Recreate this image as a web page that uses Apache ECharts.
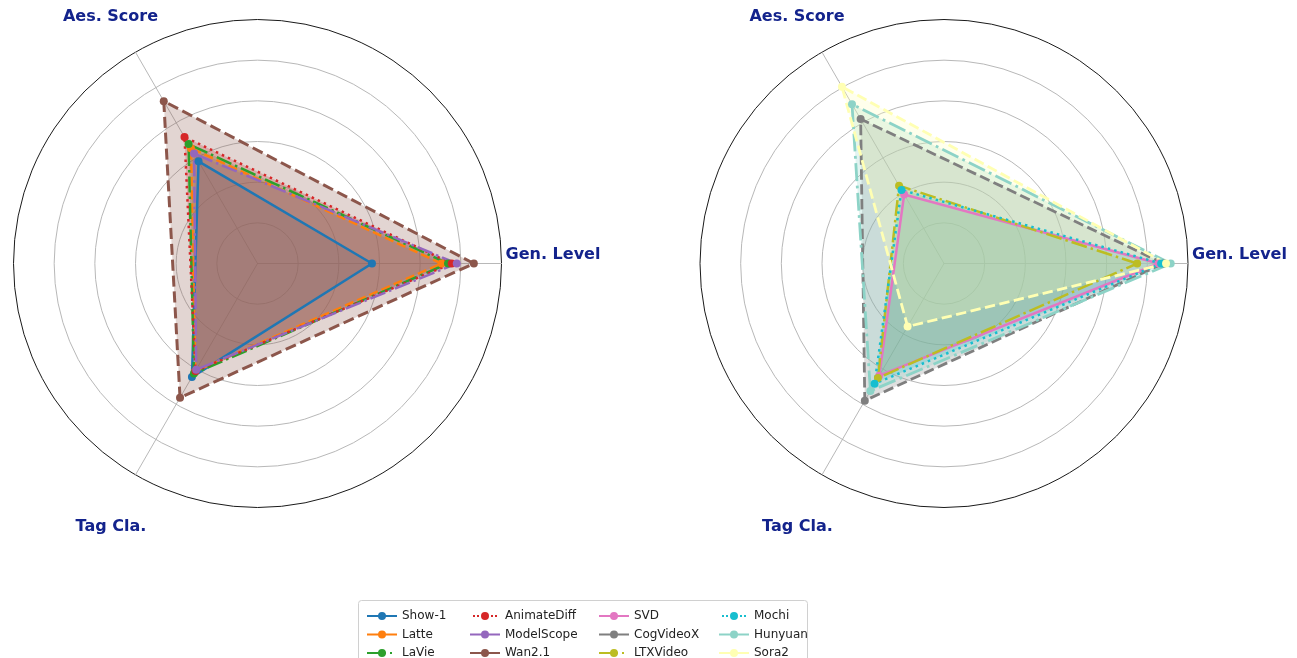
<!DOCTYPE html>
<html>
<head>
<meta charset="utf-8">
<script src="https://cdn.jsdelivr.net/npm/echarts@6/dist/echarts.min.js"></script>
<style>html,body{margin:0;padding:0;background:#fff;}#c{width:1297px;height:658px;}</style>
</head>
<body>
<div id="c"></div>
<script>
// ---- data ----
const categories = ['Gen. Level', 'Aes. Score', 'Tag Cla.'];
const axisMax = 1.2;

const leftModels = ['Show-1', 'Latte', 'LaVie', 'AnimateDiff', 'ModelScope', 'Wan2.1'];
const leftGen = [0.563, 0.905, 0.937, 0.955, 0.980, 1.064];
const leftAes = [0.580, 0.655, 0.678, 0.718, 0.624, 0.922];
const leftTag = [0.645, 0.612, 0.625, 0.610, 0.603, 0.762];

const rightModels = ['SVD', 'CogVideoX', 'LTXVideo', 'Mochi', 'Hunyuan', 'Sora2'];
const rightGen = [1.056, 1.080, 0.950, 1.068, 1.115, 1.092];
const rightAes = [0.392, 0.820, 0.442, 0.418, 0.905, 1.004];
const rightTag = [0.637, 0.779, 0.650, 0.683, 0.724, 0.358];

const leftColors = ['#1f77b4', '#ff7f0e', '#2ca02c', '#d62728', '#9467bd', '#8c564b'];
const rightColors = ['#e377c2', '#7f7f7f', '#bcbd22', '#17becf', '#8dd3c7', '#ffffb3'];
const lineKinds = ['solid', 'dashed', 'dashdot', 'dotted', 'dashdot', 'dashed'];
const leftWidths = [2.5, 2.5, 2.5, 2.5, 2.5, 3];
const rightWidths = [2.5, 2.8, 2.5, 2.5, 2.8, 2.8];

const legendColumns = [
  ['Show-1', 'Latte', 'LaVie'],
  ['AnimateDiff', 'ModelScope', 'Wan2.1'],
  ['SVD', 'CogVideoX', 'LTXVideo'],
  ['Mochi', 'Hunyuan', 'Sora2']
];

// ---- layout / style ----
const R = 244;
const centers = [[257.5, 263.5], [944, 263.5]];
const FONT = '"DejaVu Sans", sans-serif';
const labelColor = '#13238c';

function dashFor(kind, w) {
  if (kind === 'dashed') return [3.7 * w, 1.6 * w];
  if (kind === 'dashdot') return [6.4 * w, 1.6 * w, 1 * w, 1.6 * w];
  if (kind === 'dotted') return [1 * w, 1.65 * w];
  return 'solid';
}

const iconSolid = 'path://M0,3H30V5H0Z M19,4A4,4 0 1,1 11,4A4,4 0 1,1 19,4Z';
const iconDashDot = 'path://M0,3H19V5H0Z M23,3H25V5H23Z M30,3.99H30.01V4.01H30Z M19,4A4,4 0 1,1 11,4A4,4 0 1,1 19,4Z';
const iconDotted = 'path://M0.01,3.99H0.02V4.01H0.01Z M3,3H5V5H3Z M7,3H9V5H7Z M21,3H23V5H21Z M25,3H27V5H25Z M29.98,3.99H29.99V4.01H29.98Z M19,4A4,4 0 1,1 11,4A4,4 0 1,1 19,4Z';
function iconFor(name) {
  let i = leftModels.indexOf(name);
  if (i < 0) i = rightModels.indexOf(name);
  const k = lineKinds[i];
  if (k === 'dotted') return iconDotted;
  if (k === 'dashdot' && (name === 'LaVie' || name === 'LTXVideo')) return iconDashDot;
  return iconSolid;
}

function makeRadar(center) {
  return {
    center: center,
    radius: R,
    startAngle: 0,
    shape: 'circle',
    splitNumber: 6,
    indicator: categories.map(c => ({ name: c, min: 0, max: axisMax })),
    axisName: { show: false },
    axisLine: { lineStyle: { color: '#b0b0b0', width: 0.9 } },
    axisTick: { show: false },
    axisLabel: { show: false },
    splitLine: { lineStyle: { color: ['#b8b8b8', '#b8b8b8', '#b8b8b8', '#b8b8b8', '#b8b8b8', '#b8b8b8', '#1a1a1a'], width: 1 } },
    splitArea: { show: false }
  };
}

// fills (below) and lines (above), as in the original drawing order
const fillSeries = [];
const lineSeries = [];
function addSeries(models, gen, aes, tag, colors, widths, radarIndex) {
  models.forEach((m, i) => {
    const w = widths[i];
    const value = [gen[i], aes[i], tag[i]];
    fillSeries.push({
      type: 'radar', name: m, radarIndex: radarIndex,
      symbol: 'none', z: 2, silent: true,
      color: colors[i],
      lineStyle: { width: 0, opacity: 0 },
      itemStyle: { color: colors[i] },
      areaStyle: { color: colors[i], opacity: 0.25 },
      data: [{ name: m, value: value }]
    });
    lineSeries.push({
      type: 'radar', name: m, radarIndex: radarIndex,
      symbol: 'circle', symbolSize: 8, z: 3,
      color: colors[i],
      lineStyle: { color: colors[i], width: w, type: dashFor(lineKinds[i], w) },
      itemStyle: { color: colors[i] },
      data: [{ name: m, value: value }]
    });
  });
}
addSeries(leftModels, leftGen, leftAes, leftTag, leftColors, leftWidths, 0);
addSeries(rightModels, rightGen, rightAes, rightTag, rightColors, rightWidths, 1);

const colX = [362, 465, 594, 714];
const legends = legendColumns.map((names, ci) => ({
  orient: 'vertical',
  left: colX[ci],
  top: 604,
  height: 120,
  itemWidth: 30,
  itemHeight: 8,
  itemGap: 4.5,
  selectedMode: false,
  z: 10,
  textStyle: { fontSize: 12, color: '#222', fontFamily: FONT, lineHeight: 14 },
  data: names.map(n => ({ name: n, icon: iconFor(n) }))
}));

const labelOffsets = [[295.5, -8.5], [-147, -246.5], [-146.5, 263]];
const graphics = [{
  type: 'rect', z: 1,
  shape: { x: 358.5, y: 600.5, width: 449, height: 70, r: 3 },
  style: { fill: '#ffffff', stroke: '#d0d0d0', lineWidth: 1 }
}];
centers.forEach(c => {
  categories.forEach((cat, i) => {
    graphics.push({
      type: 'text', z: 10,
      x: c[0] + labelOffsets[i][0],
      y: c[1] + labelOffsets[i][1],
      style: { text: cat, font: 'bold 16px ' + FONT, fill: labelColor, align: 'center', verticalAlign: 'middle' }
    });
  });
});

const chart = echarts.init(document.getElementById('c'), null, { renderer: 'canvas' });
chart.setOption({
  backgroundColor: '#ffffff',
  animation: false,
  radar: centers.map(makeRadar),
  legend: legends,
  graphic: graphics,
  series: fillSeries.concat(lineSeries)
});
</script>
</body>
</html>
